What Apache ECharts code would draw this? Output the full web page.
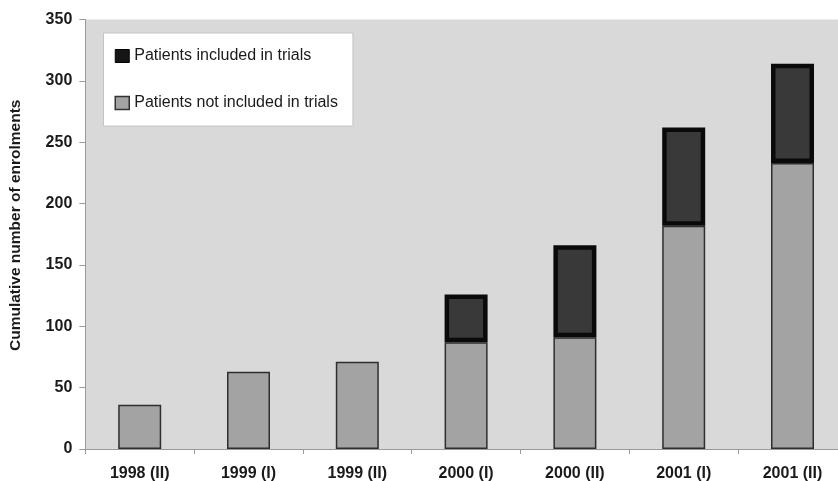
<!DOCTYPE html>
<html>
<head>
<meta charset="utf-8">
<script src="https://cdn.jsdelivr.net/npm/echarts@6/dist/echarts.min.js"></script>
<style>
html,body{margin:0;padding:0;background:#fff;}
#c{width:838px;height:481px;}
</style>
</head>
<body>
<div id="c"></div>
<script>
var categories = ['1998 (II)', '1999 (I)', '1999 (II)', '2000 (I)', '2000 (II)', '2001 (I)', '2001 (II)'];
var notIncluded = [36, 63, 71, 87, 91, 182, 233];
var included = [0, 0, 0, 39, 75, 80, 81];
var yTicks = [0, 50, 100, 150, 200, 250, 300, 350];

var chart = echarts.init(document.getElementById('c'), null, {renderer: 'canvas'});
var font = 'Liberation Sans, Arial, sans-serif';
chart.setOption({
  animation: false,
  backgroundColor: '#ffffff',
  textStyle: {fontFamily: font},
  grid: {
    left: 85.3, right: -8.9, top: 19.5, bottom: 32,
    show: true, backgroundColor: '#d9d9d9', borderWidth: 0,
    outerBoundsMode: 'none', containLabel: false
  },
  legend: {
    orient: 'vertical',
    left: 103.5, top: 33,
    padding: [15, 15, 15, 11],
    itemGap: 31,
    itemWidth: 14, itemHeight: 13,
    backgroundColor: '#ffffff',
    borderColor: '#c4c4c4', borderWidth: 1,
    textStyle: {fontFamily: font, fontSize: 16, lineHeight: 16, color: '#1a1a1a'},
    data: [
      {name: 'Patients included in trials', icon: 'rect',
       itemStyle: {color: '#161616', borderColor: '#000', borderWidth: 1}},
      {name: 'Patients not included in trials', icon: 'rect',
       itemStyle: {color: '#a3a3a3', borderColor: '#333', borderWidth: 1.5}}
    ]
  },
  xAxis: {
    type: 'category',
    data: categories,
    axisLine: {show: true, lineStyle: {color: '#9a9a9a', width: 1}},
    axisTick: {show: true, length: 5, lineStyle: {color: '#9a9a9a'}},
    axisLabel: {fontFamily: font, fontSize: 16, fontWeight: 'bold', color: '#1a1a1a', margin: 17},
    splitLine: {show: false}
  },
  yAxis: {
    type: 'value',
    min: yTicks[0], max: yTicks[yTicks.length - 1], interval: yTicks[1] - yTicks[0],
    name: 'Cumulative number of enrolments',
    nameLocation: 'middle',
    nameGap: 62,
    nameRotate: 90,
    nameTextStyle: {fontFamily: font, fontSize: 15.5, fontWeight: 'bold', color: '#1a1a1a', padding: [0, 0, 0, 18]},
    axisLine: {show: true, lineStyle: {color: '#9a9a9a', width: 1}},
    axisTick: {show: true, length: 6, lineStyle: {color: '#9a9a9a'}},
    axisLabel: {fontFamily: font, fontSize: 16, fontWeight: 'bold', color: '#1a1a1a', margin: 13},
    splitLine: {show: false}
  },
  series: [
    {
      name: 'Patients not included in trials',
      type: 'bar',
      stack: 'total',
      barWidth: 43,
      data: notIncluded,
      itemStyle: {color: '#a3a3a3', borderColor: '#2e2e2e', borderWidth: 1.5}
    },
    {
      name: 'Patients included in trials',
      type: 'bar',
      stack: 'total',
      barWidth: 43,
      data: included.map(function (v) { return v === 0 ? null : v; }),
      itemStyle: {color: '#393939', borderColor: '#0a0a0a', borderWidth: 4.5}
    }
  ]
});
</script>
</body>
</html>
